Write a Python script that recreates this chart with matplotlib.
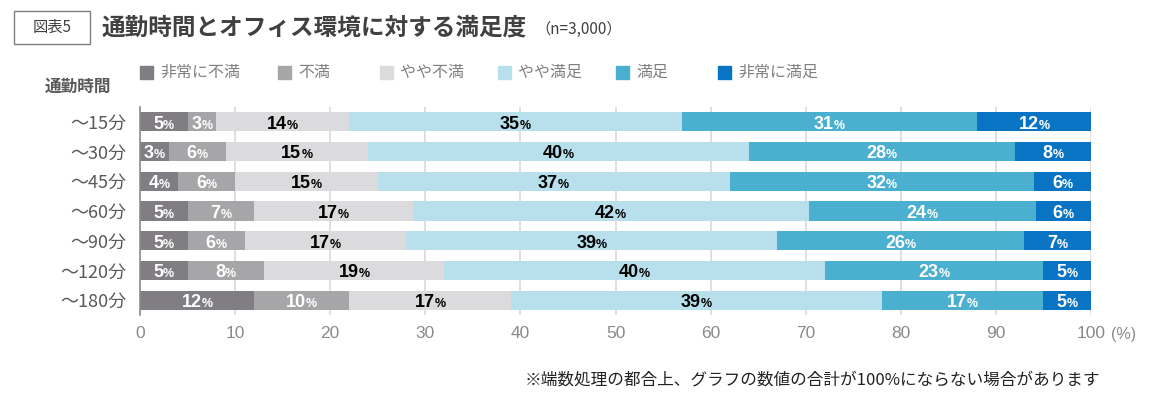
import matplotlib
matplotlib.use("Agg")
import matplotlib.pyplot as plt
from matplotlib.patches import Rectangle
from matplotlib import font_manager

JP = ['Noto Sans CJK JP', 'DejaVu Sans']
names = {f.name for f in font_manager.fontManager.ttflist}
NUMFONT = ['Liberation Sans Narrow'] if 'Liberation Sans Narrow' in names else ['Liberation Sans']
plt.rcParams['font.family'] = JP

categories = ['～15分', '～30分', '～45分', '～60分', '～90分', '～120分', '～180分']
series_names = ['非常に不満', '不満', 'やや不満', 'やや満足', '満足', '非常に満足']
very_dissatisfied = [5, 3, 4, 5.0, 5, 5, 12]
dissatisfied = [3, 6, 6, 7.0, 6, 8, 10]
somewhat_dissatisfied = [14, 15, 15, 16.7, 17, 19, 17]
somewhat_satisfied = [35, 40, 37, 41.6, 39, 40, 39]
satisfied = [31, 28, 32, 23.9, 26, 23, 17]
very_satisfied = [12, 8, 6, 5.8, 7, 5, 5]
series = [very_dissatisfied, dissatisfied, somewhat_dissatisfied,
          somewhat_satisfied, satisfied, very_satisfied]
colors = ['#807e82', '#a6a5a8', '#dbdadc', '#b8e0ec', '#4bafcf', '#0a74c4']
label_colors = ['white', 'white', 'black', 'black', 'white', 'white']
xticks = [0, 10, 20, 30, 40, 50, 60, 70, 80, 90, 100]

W, H = 1154, 398
fig = plt.figure(figsize=(W / 100, H / 100), dpi=100)
ax = fig.add_axes([140 / W, 1 - 315 / H, (1091 - 140) / W, (315 - 107) / H])

ypos = list(range(len(categories)))
left = [0.0] * len(categories)
for vals, col, name in zip(series, colors, series_names):
    ax.barh(ypos, vals, left=left, height=0.64, color=col, zorder=2, label=name)
    left = [l + v for l, v in zip(left, vals)]

ax.set_xlim(0, 100)
ax.set_ylim(6.5, -0.5)
ax.set_xticks(xticks)
ax.set_xticklabels([str(t) for t in xticks], fontsize=12.5, color='#8a8a8a',
                   family=['Liberation Sans'])
ax.set_yticks(ypos)
ax.set_yticklabels(categories, fontsize=13, color='#595959')
ax.tick_params(axis='both', length=0)
ax.tick_params(axis='y', pad=10)
ax.tick_params(axis='x', pad=8)
for s in ['top', 'right', 'bottom']:
    ax.spines[s].set_visible(False)
ax.spines['left'].set_color('#8c8c8c')
ax.spines['left'].set_linewidth(1.2)
ax.grid(axis='x', color='#d9d9d9', linewidth=1.2, zorder=0)
ax.set_axisbelow(True)

# segment labels: bold number + smaller %
fig.canvas.draw()
renderer = fig.canvas.get_renderer()
ppu = ax.get_window_extent().width / 100.0
left = [0.0] * len(categories)
for vals, tc in zip(series, label_colors):
    for i, v in enumerate(vals):
        cx = left[i] + v / 2
        t1 = ax.text(cx, i + 0.23, f"{round(v):d}", ha='left', va='baseline',
                     fontsize=13, fontweight='bold', color=tc,
                     family=NUMFONT, zorder=5)
        t2 = ax.text(cx, i + 0.23, "%", ha='left', va='baseline',
                     fontsize=9, fontweight='bold', color=tc,
                     family=NUMFONT, zorder=5)
        w1 = t1.get_window_extent(renderer).width
        w2 = t2.get_window_extent(renderer).width
        L = cx - (w1 + w2) / 2 / ppu
        t1.set_x(L)
        t2.set_x(L + w1 / ppu)
    left = [l + v for l, v in zip(left, vals)]

# "(%)" unit
fig.text(1111 / W, 1 - 334 / H, '(%)', fontsize=11.5, color='#8a8a8a',
         va='center', ha='left', family=['Liberation Sans'])

# title box
fig.patches.append(Rectangle((14 / W, 1 - 44 / H), 76 / W, 33 / H,
                             transform=fig.transFigure, fill=False,
                             edgecolor='#7f7f7f', linewidth=1))
fig.text(52 / W, 1 - 27.5 / H, '図表5', fontsize=11, color='#404040',
         ha='center', va='center')
fig.text(102 / W, 1 - 27 / H, '通勤時間とオフィス環境に対する満足度', fontsize=17,
         fontweight='bold', color='#404040', ha='left', va='center')
fig.text(535 / W, 1 - 29 / H, '（n=3,000）', fontsize=11, color='#404040',
         ha='left', va='center')

# legend
fig.text(45 / W, 1 - 87 / H, '通勤時間', fontsize=12, fontweight='bold',
         color='#595959', ha='left', va='center')
sq_x = [140, 278, 380, 498, 616, 718]
for x, col, name in zip(sq_x, colors, series_names):
    fig.patches.append(Rectangle((x / W, 1 - 79 / H), 13 / W, 13 / H,
                                 transform=fig.transFigure, color=col))
    fig.text((x + 20) / W, 1 - 72.5 / H, name, fontsize=11.5, color='#7f7f7f',
             ha='left', va='center')

# footnote
fig.text(1100 / W, 1 - 380 / H,
         '※端数処理の都合上、グラフの数値の合計が100%にならない場合があります',
         fontsize=12, color='#222222', ha='right', va='center')

fig.savefig('out.png', dpi=100)
